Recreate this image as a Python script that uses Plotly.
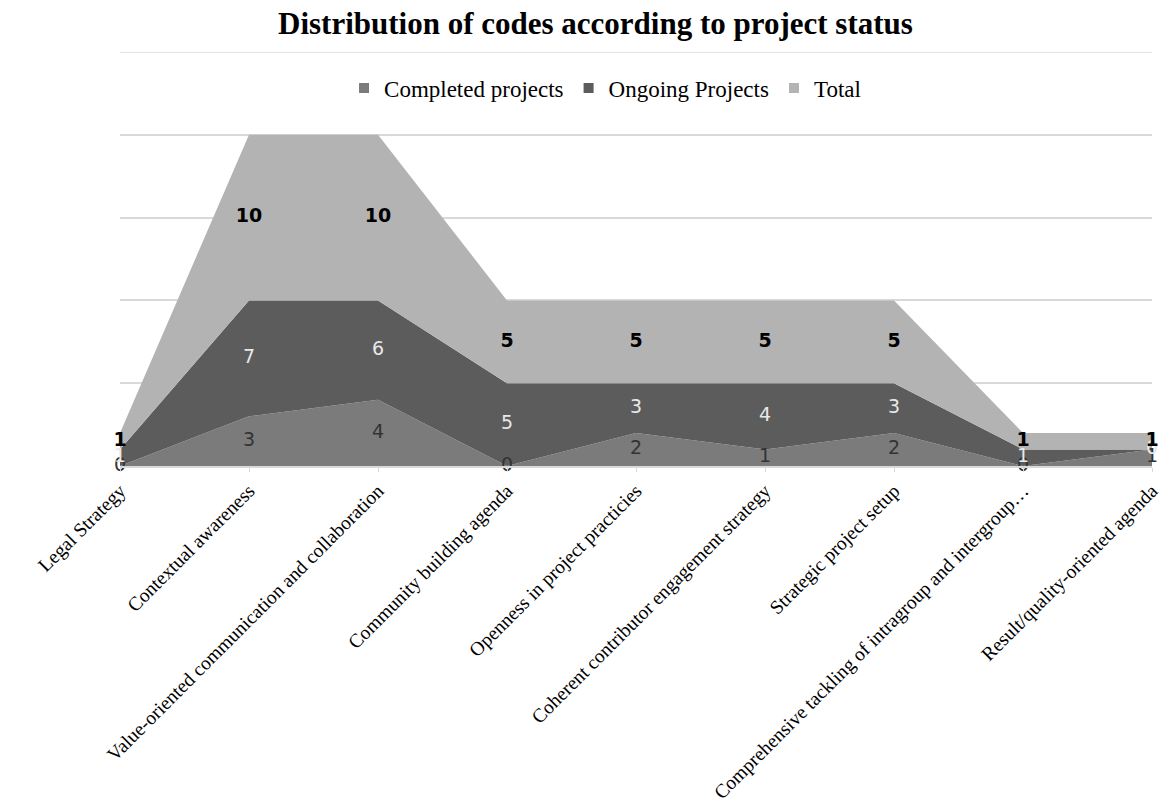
import numpy as np
import plotly.graph_objects as go

categories = [
    "Legal Strategy",
    "Contextual awareness",
    "Value-oriented communication and collaboration",
    "Community building agenda",
    "Openness in project practicies",
    "Coherent contributor engagement strategy",
    "Strategic project setup",
    "Comprehensive tackling of intragroup and intergroup…",
    "Result/quality-oriented agenda",
]
completed = [0, 3, 4, 0, 2, 1, 2, 0, 1]
ongoing = [1, 7, 6, 5, 3, 4, 3, 1, 0]
total = [1, 10, 10, 5, 5, 5, 5, 1, 1]

series_names = ["Completed projects", "Ongoing Projects", "Total"]
fill_colors = ["#7b7b7b", "#5c5c5c", "#b3b3b3"]
label_colors = ["#333333", "#e8e8e8", "#000000"]

x = list(range(len(categories)))
fig = go.Figure()

series = [completed, ongoing, total]
for name, vals, col in zip(series_names, series, fill_colors):
    fig.add_trace(go.Scatter(
        x=x, y=vals, stackgroup="one", mode="none",
        fillcolor=col, line=dict(width=0), showlegend=False,
        hoverinfo="skip",
    ))

# data labels at band centres
arr = np.array(series, dtype=float)
cum = np.cumsum(arr, axis=0)
for i, (vals, lc) in enumerate(zip(series, label_colors)):
    base = cum[i] - arr[i]
    mid = base + arr[i] / 2.0
    txt = [str(v) for v in vals]
    if i == 2:
        txt = ["<b>%s</b>" % t for t in txt]
    fig.add_trace(go.Scatter(
        x=x, y=mid, mode="text", text=txt,
        textfont=dict(family="DejaVu Sans", size=19, color=lc),
        textposition="middle center", showlegend=False, hoverinfo="skip",
        cliponaxis=False,
    ))

# legend entries with square markers
for name, col in zip(series_names, fill_colors):
    fig.add_trace(go.Scatter(
        x=[None], y=[None], mode="markers", name=name,
        marker=dict(symbol="square", size=10, color=col),
    ))

# top gridline (at the upper end of the value range)
fig.add_shape(type="line", xref="paper", x0=0, x1=1, yref="y", y0=25, y1=25,
              line=dict(color="#d9d9d9", width=1.5), layer="below")

fig.update_layout(
    width=1163, height=811,
    margin=dict(l=120, r=11, t=52, b=345, autoexpand=False),
    paper_bgcolor="white", plot_bgcolor="white",
    title=dict(
        text="<b>Distribution of codes according to project status</b>",
        font=dict(family="Liberation Serif", size=31, color="#000000"),
        x=0.512, xref="container", xanchor="center",
        y=1 - 23 / 811, yref="container", yanchor="middle",
    ),
    legend=dict(
        orientation="h", x=0.47, xanchor="center", y=0.913, yanchor="middle",
        font=dict(family="Liberation Serif", size=23, color="#000000"),
        bgcolor="rgba(0,0,0,0)", itemwidth=30, traceorder="normal",
    ),
    xaxis=dict(
        range=[0, len(categories) - 1], tickmode="array", tickvals=x,
        ticktext=categories, tickangle=-45, automargin=False,
        ticklabeloverflow="allow",
        tickfont=dict(family="Liberation Serif", size=19.5, color="#000000"),
        showgrid=False, showline=True, linecolor="#d9d9d9", linewidth=1.5,
        ticks="outside", ticklen=4, tickcolor="#d9d9d9", zeroline=False,
    ),
    yaxis=dict(
        range=[0, 25], dtick=5, showticklabels=False, showgrid=True,
        gridcolor="#d9d9d9", gridwidth=1.5, zeroline=False, showline=False,
        automargin=False,
    ),
)

fig.write_html("out.html")
